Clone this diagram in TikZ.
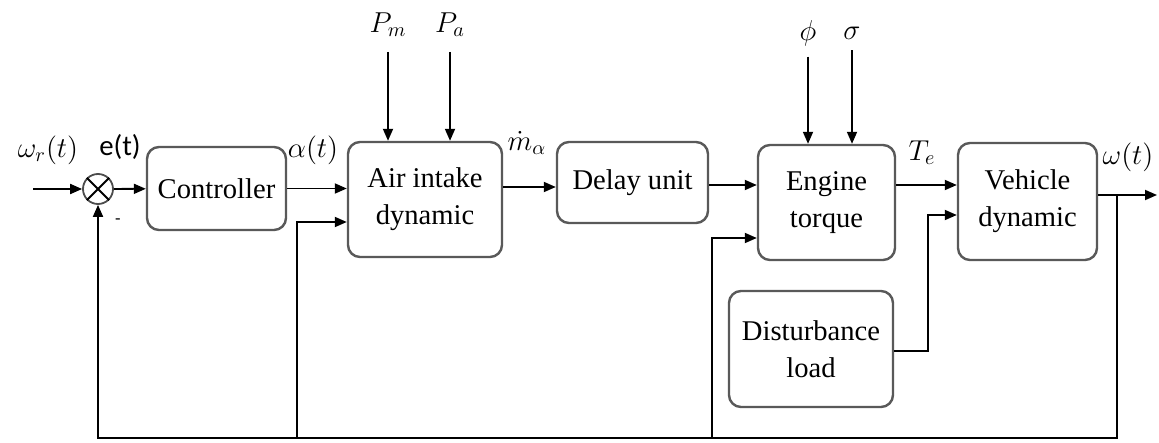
\documentclass[tikz,border=0pt]{standalone}
\usepackage{fontspec}
\setmainfont{Liberation Serif}
\newfontfamily\sigfont{Carlito}
\usetikzlibrary{arrows.meta}

\begin{document}
\begin{tikzpicture}[x=0.5pt, y=-0.5pt, >={Triangle[length=6pt, width=5pt]}, line width=0.9pt,
    block/.style={draw=black!65, line width=1.2pt, rounded corners=6pt, align=center,
      font=\fontsize{14.3}{18.5}\selectfont},
    sig/.style={font=\fontsize{14.4}{16}\selectfont, inner sep=1pt}]
    \useasboundingbox (0,0) rectangle (1159,443);

    % Blocks
    \node (sum) [draw=black!70, circle, minimum size=15pt, inner sep=0pt] at (98,189) {};
    \draw (sum.45) -- (sum.225) (sum.135) -- (sum.315);
    \node (ctrl) [block, minimum width=69.5pt, minimum height=41.5pt] at (216.5,188.5) {Controller};
    \node (air) [block, minimum width=77pt, minimum height=57.5pt] at (425,199.5) {Air intake\\dynamic};
    \node (delay) [block, minimum width=75.5pt, minimum height=40.5pt] at (632.5,182.5) {Delay unit};
    \node (engine) [block, minimum width=68.5pt, minimum height=57.5pt] at (826.5,202.5) {Engine\\torque};
    \node (vehicle) [block, minimum width=69.5pt, minimum height=58.5pt] at (1027.5,201.5) {Vehicle\\dynamic};
    \node (dist) [block, minimum width=82pt, minimum height=58pt] at (811,349) {Disturbance\\load};

    % Signal labels
    \node (wr) [sig] at (48,150) {$\omega_r(t)$};
    \node (err) [sig] at (120,147) {\sigfont e(t)};
    \node (neg) [sig] at (118,222) {\sigfont\small -};
    \node (alpha) [sig] at (313,150) {$\alpha(t)$};
    \node (mdot) [sig] at (527,143) {$\dot{m}_\alpha$};
    \node (te) [sig] at (922,153) {$T_e$};
    \node (wout) [sig] at (1128,157) {$\omega(t)$};
    \node (pm) [sig] at (388,25) {$P_m$};
    \node (pa) [sig] at (450,25) {$P_a$};
    \node (phi) [sig] at (808,33) {$\phi$};
    \node (sigma) [sig] at (852,33) {$\sigma$};

    % Coordinates
    \coordinate (in) at (33,189);
    \coordinate (out) at (1157,195);
    \coordinate (fb) at (1117,195);
    \coordinate (tapA) at (297,438);
    \coordinate (tapE) at (712,438);
    \coordinate (dj) at (928,351);

    % Forward path
    \draw[->] (in) -- (sum);
    \draw[->] (sum) -- (ctrl);
    \draw[->] (ctrl.east) -- (ctrl.east -| air.west);
    \draw[->] (air.east |- 0,187) -- (delay.west |- 0,187);
    \draw[->] (delay.east |- 0,185) -- (engine.west |- 0,185);
    \draw[->] (engine.east |- 0,185) -- (vehicle.west |- 0,185);
    \draw[->] (vehicle.east |- out) -- (out);

    % Inputs from above
    \draw[->, shorten <=6pt] (pm) -- (pm |- air.north);
    \draw[->, shorten <=6pt] (pa) -- (pa |- air.north);
    \draw[->, shorten <=4pt] (phi) -- (phi |- engine.north);
    \draw[->, shorten <=4pt] (sigma) -- (sigma |- engine.north);

    % Feedback
    \draw[->] (fb) -- (fb |- 0,438) -| (sum.south);
    \draw[->] (tapA) |- (air.west |- 0,222);
    \draw[->] (tapE) |- (engine.west |- 0,238);
    \draw[->] (dist.east |- dj) -- (dj) |- (vehicle.west |- 0,215);
\end{tikzpicture}
\end{document}
